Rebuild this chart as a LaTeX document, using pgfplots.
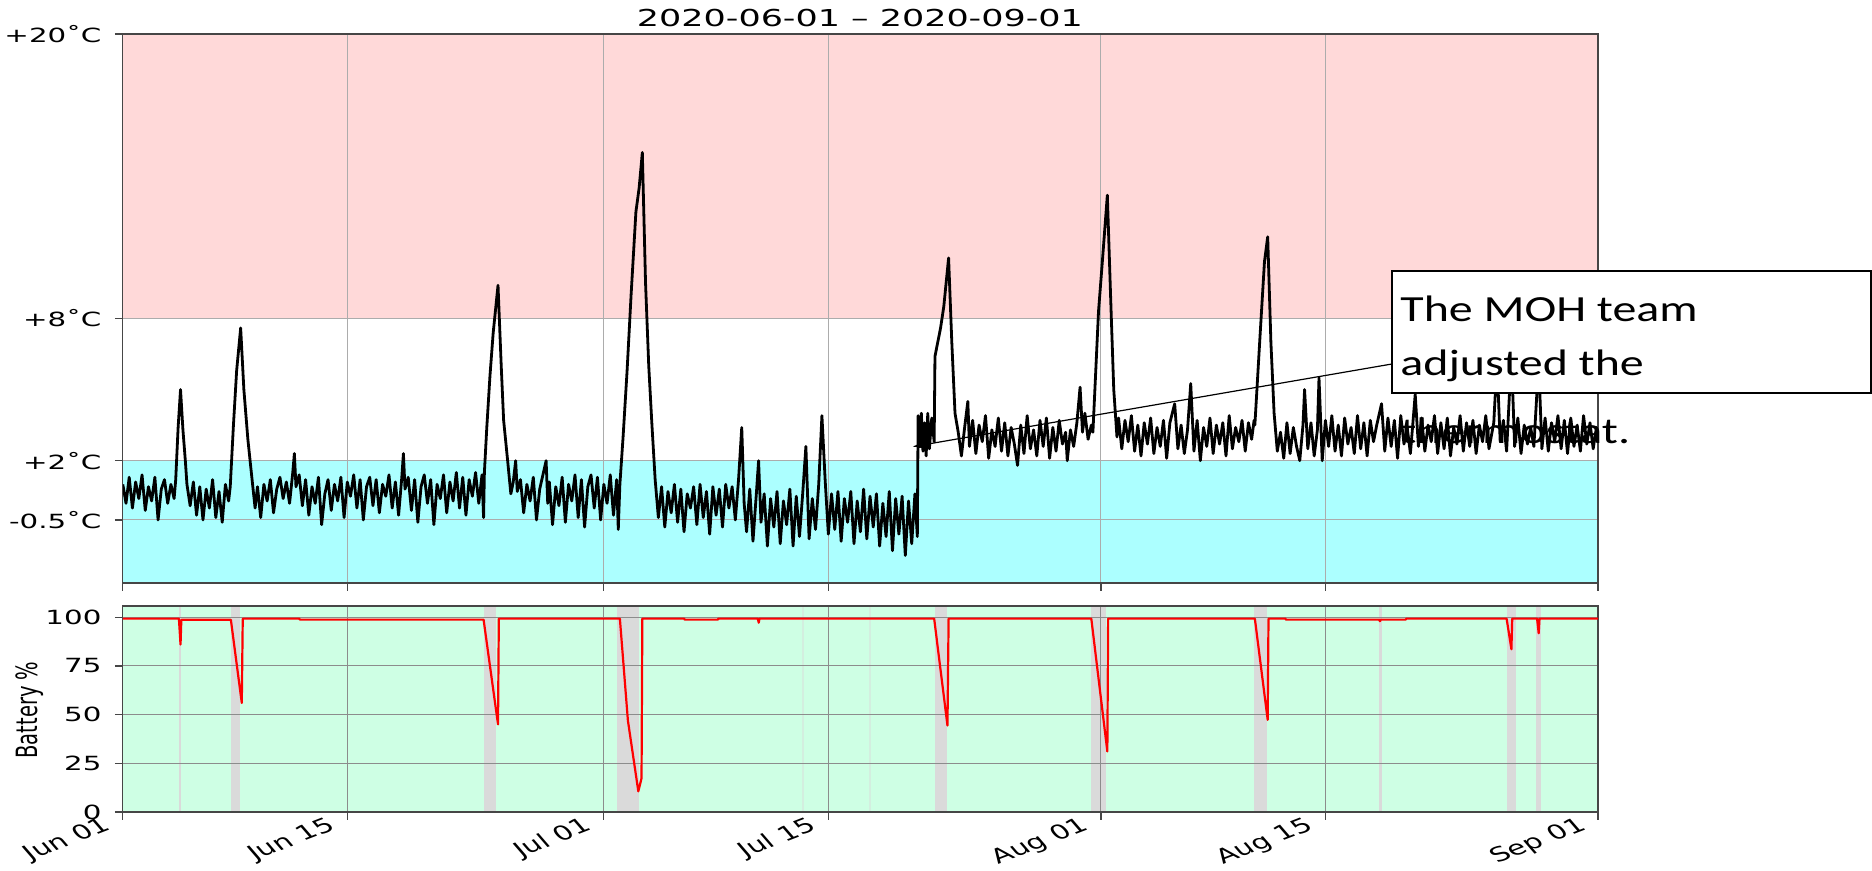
\documentclass[border=0pt]{standalone}
\usepackage{pgfplots}
\pgfplotsset{compat=1.18}
\usepackage{fontspec}
\usetikzlibrary{arrows.meta}
\setmainfont{DejaVu Sans}
\newfontfamily\mplwide{DejaVu Sans}[FakeStretch=1.5]
\newfontfamily\mpl{DejaVu Sans}
\newfontfamily\calib{Carlito}[FakeStretch=1.3]
\definecolor{zonepink}{RGB}{255,217,217}
\definecolor{zonecyan}{RGB}{172,255,255}
\definecolor{mint}{RGB}{206,255,228}
\definecolor{band}{RGB}{218,218,218}
\definecolor{gridc}{RGB}{172,172,172}
\definecolor{gridd}{RGB}{140,140,140}
\definecolor{spine}{RGB}{70,70,70}
\newcommand\xl[1]{\scalebox{1.5}[1]{\rotatebox{30}{\mpl\fontsize{10}{11}\selectfont #1}}}

\begin{document}
\begin{tikzpicture}[x=1bp,y=1bp]

% ---------------- temperature panel ----------------
\begin{axis}[
  at={(61.4bp,144bp)}, anchor=south west, scale only axis,
  width=737.6bp, height=274.5bp,
  xmin=0, xmax=92, ymin=-3.16, ymax=20,
  xtick={0,14,30,44,61,75,92}, xticklabels={},
  ytick={-0.5,2,8,20}, yticklabels={-0.5˚C,+2˚C,+8˚C,+20˚C},
  tick pos=left, tick align=outside, major tick length=4bp,
  grid=major, grid style={gridc, line width=0.5bp},
  axis line style={spine, line width=0.6bp},
  tick style={spine, line width=0.6bp},
  yticklabel style={font=\mplwide\fontsize{9.8}{10}\selectfont, inner sep=0pt, xshift=-6.5bp},
  set layers,
]
\addplot[on layer=axis background, fill=zonepink, draw=none] coordinates {(0,8)(92,8)(92,20)(0,20)};
\addplot[on layer=axis background, fill=zonecyan, draw=none] coordinates {(0,-3.16)(92,-3.16)(92,2)(0,2)};
\addplot[black, line width=1.4bp, line join=round] coordinates {
(0.0,1.0)(0.2,0.2)(0.4,1.3)(0.6,0.0)(0.8,1.1)(1.0,0.4)(1.2,1.4)(1.4,-0.1)(1.6,0.9)(1.8,0.3)
(2.0,1.3)(2.2,-0.5)(2.4,0.8)(2.6,1.2)(2.8,0.2)(3.0,1.0)(3.2,0.4)
(3.3,1.2)(3.45,3.4)(3.6,5.0)(3.75,3.3)(3.9,2.0)(4.0,1.0)
(4.2,0.1)(4.4,1.1)(4.6,-0.3)(4.8,0.9)(5.0,-0.5)(5.2,0.8)(5.4,0.0)(5.6,1.2)(5.8,-0.4)(6.0,0.7)
(6.2,-0.6)(6.4,1.0)(6.6,0.3)
(6.7,0.9)(6.9,3.5)(7.1,5.8)(7.35,7.6)(7.55,5.0)(7.8,2.9)(8.0,1.6)(8.25,0.0)
(8.4,0.9)(8.6,-0.4)(8.8,1.0)(9.0,0.3)(9.2,1.2)(9.4,-0.2)(9.6,0.8)(9.8,1.3)(10.0,0.4)(10.2,1.1)
(10.4,0.2)(10.6,1.5)(10.7,2.3)(10.8,0.9)(11.0,1.4)(11.2,0.1)(11.4,1.2)(11.6,-0.3)(11.8,0.9)(12.0,0.2)
(12.2,1.3)(12.4,-0.7)(12.6,0.6)(12.8,1.2)(13.0,-0.1)(13.2,1.0)(13.4,0.3)(13.6,1.3)(13.8,-0.4)(14.0,1.1)
(14.2,0.5)(14.4,1.4)(14.6,0.0)(14.8,1.2)(15.0,-0.5)(15.2,0.9)(15.4,1.3)(15.6,0.1)(15.8,1.2)(16.0,-0.2)
(16.2,1.0)(16.4,0.5)(16.6,1.4)(16.8,0.0)(17.0,1.1)(17.2,-0.3)(17.4,1.3)(17.5,2.3)(17.6,0.8)(17.8,1.3)
(18.0,-0.1)(18.2,1.2)(18.4,-0.6)(18.6,0.9)(18.8,1.4)(19.0,0.2)(19.2,1.2)(19.4,-0.7)(19.6,1.0)(19.8,0.4)
(20.0,1.4)(20.2,-0.2)(20.4,1.1)(20.6,0.3)(20.8,1.5)(21.0,0.0)(21.2,1.3)(21.4,-0.3)(21.6,1.2)(21.8,0.5)
(22.0,1.5)(22.2,0.2)(22.4,1.4)(22.5,-0.4)
(22.55,1.5)(22.7,3.4)(22.9,5.6)(23.1,7.4)(23.4,9.4)(23.6,6.0)(23.75,3.7)(24.0,2.0)(24.2,0.6)(24.35,1.1)(24.5,2.0)(24.6,0.7)
(24.8,1.2)(25.0,-0.2)(25.2,1.0)(25.4,0.3)(25.6,1.3)(25.8,-0.5)(26.0,0.8)(26.2,1.4)(26.4,2.0)(26.5,0.2)
(26.6,1.1)(26.8,-0.7)(27.0,0.9)(27.2,0.1)(27.4,1.3)(27.6,-0.6)(27.8,1.0)(28.0,0.3)(28.2,1.4)(28.4,-0.4)
(28.6,1.2)(28.8,-0.8)(29.0,0.9)(29.2,1.4)(29.4,0.0)(29.6,1.3)(29.8,-0.5)(30.0,1.0)(30.2,0.2)(30.4,1.4)
(30.6,-0.3)(30.8,1.2)(30.9,-0.9)
(31.0,1.0)(31.2,3.0)(31.45,5.8)(31.7,9.0)(32.0,12.5)(32.2,13.5)(32.4,15.0)(32.6,9.5)(32.8,6.0)(33.0,3.5)(33.2,1.2)(33.4,-0.4)
(33.6,0.9)(33.8,-0.8)(34.0,0.7)(34.2,-0.2)(34.4,1.0)(34.6,-0.6)(34.8,0.8)(35.0,-1.0)(35.2,0.6)(35.4,0.0)
(35.6,0.9)(35.8,-0.7)(36.0,1.0)(36.2,-0.4)(36.4,0.7)(36.6,-1.1)(36.8,0.9)(37.0,-0.3)(37.2,0.8)(37.4,-0.8)
(37.6,1.0)(37.8,0.0)(38.0,0.9)(38.2,-0.5)(38.4,1.2)(38.6,3.4)(38.75,0.2)(38.9,-1.0)(39.1,0.8)(39.3,-1.4)
(39.5,0.5)(39.65,2.0)(39.8,-0.6)(40.0,0.6)(40.2,-1.6)(40.4,0.4)(40.6,-0.8)(40.8,0.7)(41.0,-1.5)(41.2,0.3)
(41.4,-0.7)(41.6,0.8)(41.8,-1.6)(42.0,0.5)(42.2,-1.2)(42.4,0.6)(42.6,2.6)(42.8,-1.3)(43.0,0.4)(43.2,-0.9)
(43.4,1.0)(43.6,3.9)(43.8,1.2)(44.0,-1.1)(44.2,0.6)(44.4,-0.9)(44.6,0.7)(44.8,-1.4)(45.0,0.4)(45.2,-0.6)
(45.4,0.7)(45.6,-1.5)(45.8,0.3)(46.0,-1.0)(46.2,0.8)(46.4,-1.3)(46.6,0.5)(46.8,-0.8)(47.0,0.6)(47.2,-1.6)
(47.4,0.2)(47.6,-1.2)(47.8,0.7)(48.0,-1.8)(48.2,0.4)(48.4,-1.1)(48.6,0.5)(48.8,-2.0)(49.0,0.3)(49.2,-1.5)
(49.4,0.6)(49.55,-1.2)
(49.6,3.9)(49.7,2.6)(49.8,4.0)(49.9,2.4)(50.0,3.6)(50.1,2.2)(50.2,4.0)(50.3,2.5)(50.45,3.8)
(50.6,2.8)(50.65,6.4)(51.0,7.6)(51.2,8.5)(51.5,10.55)(51.7,7.0)(51.9,4.0)(52.1,3.2)(52.3,2.2)
(52.5,3.4)(52.7,4.5)(52.8,2.6)(53.0,3.7)(53.2,2.3)(53.4,3.5)(53.6,2.8)(53.8,3.9)(54.0,2.1)(54.2,3.3)
(54.4,2.6)(54.6,3.8)(54.8,2.4)(55.0,3.6)(55.2,2.2)(55.4,3.4)(55.6,2.7)(55.8,1.8)(56.0,3.5)(56.2,2.3)
(56.4,3.9)(56.6,2.5)(56.8,3.3)(57.0,2.2)(57.2,3.7)(57.4,2.6)(57.6,3.8)(57.8,2.1)(58.0,3.4)(58.2,2.4)
(58.4,3.7)(58.6,2.7)(58.8,3.2)(58.9,2.0)(59.1,3.3)(59.3,2.6)(59.5,3.6)(59.7,5.1)(59.85,3.2)(60.0,4.0)
(60.2,2.9)(60.4,3.5)
(60.5,3.2)(60.85,8.3)(61.1,10.5)(61.4,13.2)(61.6,9.0)(61.8,5.0)(62.0,3.0)(62.1,3.8)
(62.3,2.5)(62.5,3.7)(62.7,2.8)(62.9,3.9)(63.1,2.4)(63.3,3.5)(63.5,2.2)(63.7,3.6)(63.9,2.7)(64.1,3.8)
(64.3,2.3)(64.5,3.4)(64.7,2.6)(64.9,3.7)(65.1,2.1)(65.3,3.6)(65.6,4.4)(65.8,2.5)(66.0,3.5)(66.2,2.3)
(66.4,3.3)(66.6,5.25)(66.8,2.4)(67.0,3.7)(67.2,2.0)(67.4,3.4)(67.6,2.6)(67.8,3.8)(68.0,2.3)(68.2,3.5)
(68.4,2.7)(68.6,3.6)(68.8,2.2)(69.0,3.9)(69.2,2.5)(69.4,3.4)(69.6,2.8)(69.8,3.7)(70.0,2.4)(70.2,3.6)
(70.4,2.9)(70.55,3.7)
(70.6,3.5)(70.9,7.0)(71.2,10.4)(71.4,11.44)(71.6,7.0)(71.8,4.0)(72.0,2.4)
(72.2,3.2)(72.4,2.1)(72.6,3.6)(72.8,2.3)(73.0,3.4)(73.2,2.6)(73.4,2.0)(73.6,3.5)(73.7,5.0)(73.9,2.5)
(74.1,3.6)(74.3,2.2)(74.5,3.3)(74.6,5.5)(74.8,2.0)(75.0,3.7)(75.2,2.6)(75.4,3.9)(75.6,2.4)(75.8,3.5)
(76.0,2.2)(76.2,3.8)(76.4,2.7)(76.6,3.4)(76.8,2.3)(77.0,3.9)(77.2,2.5)(77.4,3.6)(77.6,2.2)(77.8,3.7)
(78.0,2.8)(78.2,3.5)(78.5,4.4)(78.7,2.4)(78.9,3.8)(79.1,2.6)(79.3,3.7)(79.5,2.1)(79.7,3.9)(79.9,2.7)
(80.1,3.4)(80.3,2.3)(80.6,4.8)(80.8,2.6)(81.0,3.8)(81.2,2.4)(81.4,3.5)(81.6,2.8)(81.8,3.9)(82.0,2.3)
(82.2,3.6)(82.4,2.5)(82.6,3.8)(82.8,2.2)(83.0,3.4)(83.2,2.7)(83.4,3.9)(83.6,2.4)(83.8,3.6)(84.0,2.6)
(84.2,3.7)(84.4,2.3)(84.6,3.5)(84.8,2.8)(85.0,3.9)(85.2,2.5)(85.5,3.6)(85.7,6.2)(85.9,2.8)(86.1,3.7)
(86.3,2.4)(86.6,6.5)(86.8,2.6)(87.0,3.8)(87.2,2.3)(87.4,3.5)(87.6,2.7)(87.8,3.4)(88.0,2.6)(88.3,6.2)
(88.5,2.5)(88.7,3.8)(88.9,2.4)(89.1,3.6)(89.3,2.8)(89.5,3.9)(89.7,2.5)(89.9,3.7)(90.1,2.3)(90.3,3.8)
(90.5,2.6)(90.7,3.5)(90.9,2.4)(91.1,3.9)(91.3,2.7)(91.5,3.6)(91.7,2.5)(91.9,3.4)(92.0,3.0)
};
\end{axis}

% ---------------- battery panel ----------------
\begin{axis}[
  at={(61.4bp,29.5bp)}, anchor=south west, scale only axis,
  width=737.6bp, height=103bp,
  xmin=0, xmax=92, ymin=0, ymax=105.8,
  xtick={0,14,30,44,61,75,92},
  xticklabels={\xl{Jun 01},\xl{Jun 15},\xl{Jul 01},\xl{Jul 15},\xl{Aug 01},\xl{Aug 15},\xl{Sep 01}},
  ytick={0,25,50,75,100},
  tick pos=left, tick align=outside, major tick length=4bp,
  grid=major, grid style={gridd, line width=0.5bp},
  axis line style={spine, line width=0.6bp},
  tick style={spine, line width=0.6bp},
  yticklabel style={font=\mplwide\fontsize{9.8}{10}\selectfont, inner sep=0pt, xshift=-6.5bp},
  xticklabel style={anchor=north east, inner sep=0pt, xshift=-3.5bp, yshift=2bp},
  /pgf/number format/assume math mode=true,
  set layers,
]
\addplot[on layer=axis background, fill=mint, draw=none] coordinates {(0,0)(92,0)(92,105.8)(0,105.8)};
\addplot[on layer=axis background, fill=band, draw=none] coordinates {(3.5,0)(3.65,0)(3.65,105.8)(3.5,105.8)};
\addplot[on layer=axis background, fill=band, draw=none] coordinates {(6.74,0)(7.32,0)(7.32,105.8)(6.74,105.8)};
\addplot[on layer=axis background, fill=band, draw=none] coordinates {(22.5,0)(23.28,0)(23.28,105.8)(22.5,105.8)};
\addplot[on layer=axis background, fill=band, draw=none] coordinates {(30.8,0)(32.2,0)(32.2,105.8)(30.8,105.8)};
\addplot[on layer=axis background, fill=band, fill opacity=0.45, draw=none] coordinates {(42.35,0)(42.47,0)(42.47,105.8)(42.35,105.8)};
\addplot[on layer=axis background, fill=band, fill opacity=0.45, draw=none] coordinates {(46.55,0)(46.67,0)(46.67,105.8)(46.55,105.8)};
\addplot[on layer=axis background, fill=band, draw=none] coordinates {(50.65,0)(51.38,0)(51.38,105.8)(50.65,105.8)};
\addplot[on layer=axis background, fill=band, draw=none] coordinates {(60.4,0)(61.3,0)(61.3,105.8)(60.4,105.8)};
\addplot[on layer=axis background, fill=band, draw=none] coordinates {(70.55,0)(71.35,0)(71.35,105.8)(70.55,105.8)};
\addplot[on layer=axis background, fill=band, draw=none] coordinates {(78.35,0)(78.5,0)(78.5,105.8)(78.35,105.8)};
\addplot[on layer=axis background, fill=band, draw=none] coordinates {(86.3,0)(86.9,0)(86.9,105.8)(86.3,105.8)};
\addplot[on layer=axis background, fill=band, draw=none] coordinates {(88.15,0)(88.45,0)(88.45,105.8)(88.15,105.8)};
\addplot[red, line width=1.1bp, line join=round] coordinates {
(0,99.3)(3.5,99.3)(3.6,86)(3.65,98.7)(6.74,98.7)(7.42,56)(7.48,99.3)(11,99.3)(11.05,98.8)(22.5,98.8)
(23.4,45)(23.45,99.3)(31.0,99.3)(31.5,47)(32.15,10.6)(32.35,17.3)(32.4,99.3)(35,99.3)(35.05,98.8)(37.1,98.8)
(37.15,99.3)(39.6,99.3)(39.66,97.2)(39.7,99.3)(50.6,99.3)(51.43,44.4)(51.5,99.3)(60.4,99.3)(61.4,31.1)(61.45,99.3)
(70.6,99.3)(71.4,47.3)(71.45,99.3)(72.5,99.3)(72.55,98.8)(78.35,98.8)(78.4,98)(78.45,98.8)(80,98.8)(80.05,99.3)
(86.3,99.3)(86.6,83.6)(86.65,99.3)(88.2,99.3)(88.3,91.8)(88.35,99.3)(92,99.3)
};
\end{axis}

% ---------------- texts ----------------
\node[font=\mplwide\fontsize{11.7}{12}\selectfont] at (430,426.25) {2020-06-01 – 2020-09-01};
\node[rotate=90] at (15,80.5) {\scalebox{1}[1.5]{\mpl\fontsize{9.8}{10}\selectfont Battery \%}};

% annotation
\draw[black, line width=0.6bp, fill=white] (696,239) rectangle (935.5,300);
\draw[-{Latex[length=5bp,width=3.5bp]}, line width=0.6bp] (696,253.5) -- (456.25,212.15);
\node[anchor=base west, inner sep=0pt, font=\calib\fontsize{18.5}{20}\selectfont] at (700,274.5) {The MOH team};
\node[anchor=base west, inner sep=0pt, font=\calib\fontsize{18.5}{20}\selectfont] at (700,247.5) {adjusted the};
\node[anchor=base west, inner sep=0pt, font=\calib\fontsize{18.5}{20}\selectfont] at (700,213.5) {thermostat.};

\pgfresetboundingbox
\path[use as bounding box] (0,0) rectangle (936,435.5);
\end{tikzpicture}
\end{document}
